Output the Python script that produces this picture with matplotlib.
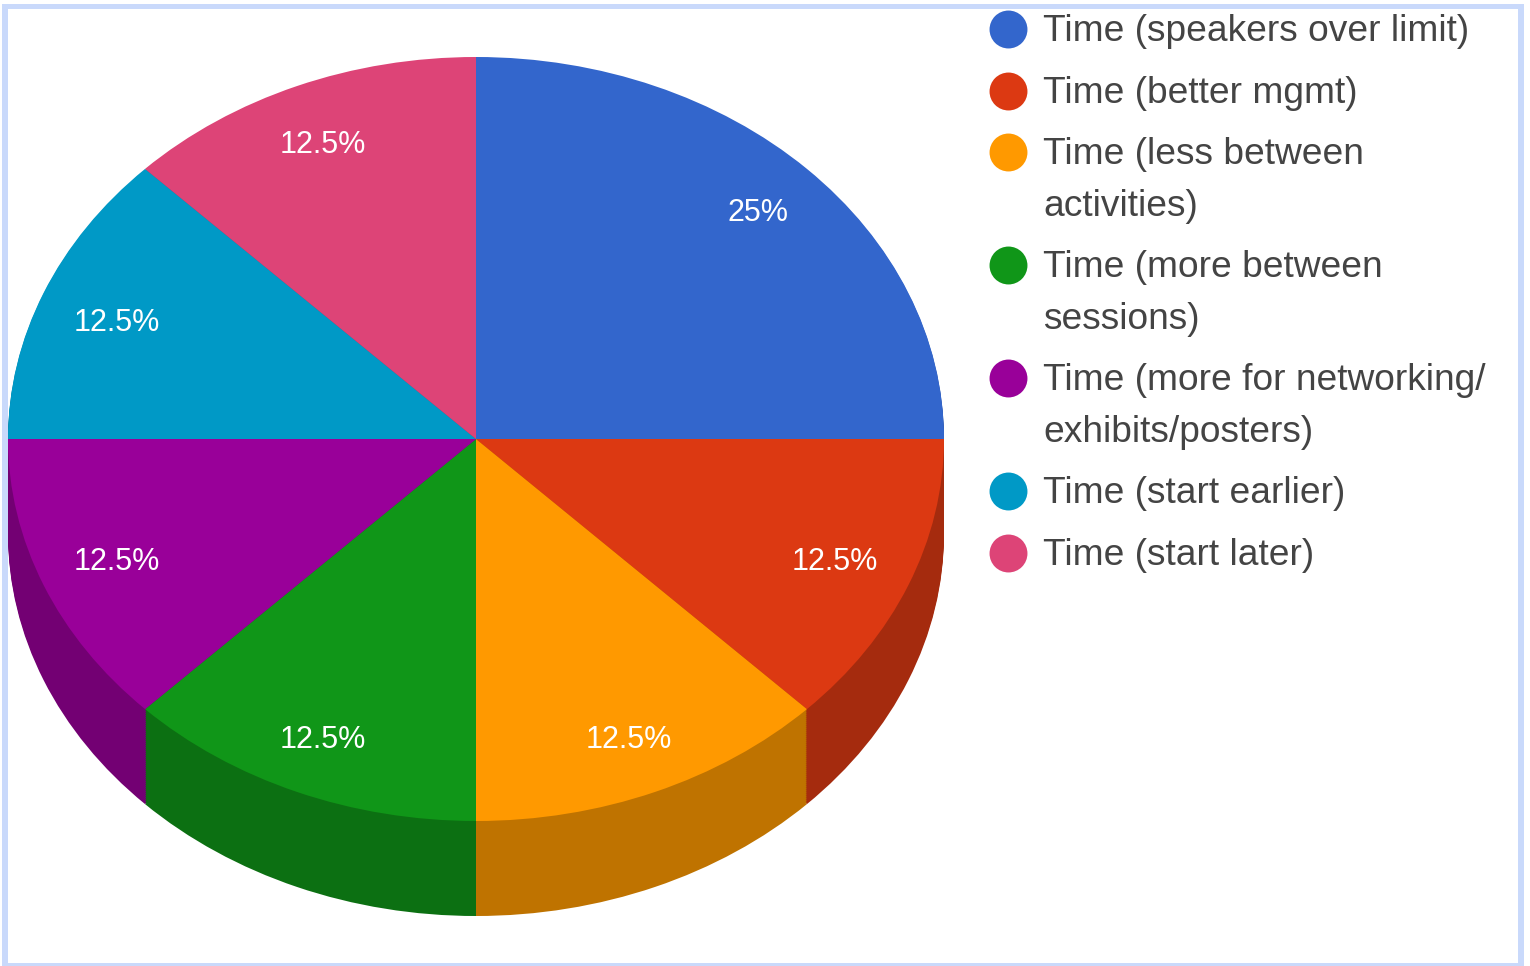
import matplotlib
matplotlib.use('Agg')
import matplotlib.pyplot as plt
from matplotlib.patches import Rectangle

labels = ['Time (speakers over limit)', 'Time (better mgmt)', 'Time (less between\nactivities)',
          'Time (more between\nsessions)', 'Time (more for networking/\nexhibits/posters)',
          'Time (start earlier)', 'Time (start later)']
shares = [25, 12.5, 12.5, 12.5, 12.5, 12.5, 12.5]
colors = ['#3366cc', '#dc3912', '#ff9900', '#109618', '#990099', '#0099c6', '#dd4477']
side_colors = ['#264d99', '#a52b0e', '#bf7300', '#0c7012', '#730073', '#007395', '#a63359']

W, H = 1530, 966
CX, CY, RX, RY = 476, 439, 468, 382
DEPTH = 95

plt.rcParams['font.family'] = 'Liberation Sans'
fig = plt.figure(figsize=(W / 100, H / 100), dpi=100, facecolor='white')

# frame goes underneath everything, pixel coordinates
bg = fig.add_axes([0, 0, 1, 1])
bg.set_xlim(0, W)
bg.set_ylim(H, 0)
bg.axis('off')
bg.add_patch(Rectangle((2, 4), 1522, 962, facecolor='#c9d9fb', edgecolor='none'))
bg.add_patch(Rectangle((8, 9), 1510, 954, facecolor='white', edgecolor='none'))

# pie axes: unit circle stretched to the ellipse on the page
ax = fig.add_axes([0, 0, 1, 1])
for d in range(DEPTH, 0, -2):
    ax.pie(shares, colors=side_colors, startangle=90, counterclock=False, center=(0, -d / RY))
wedges, texts, pcts = ax.pie(shares, colors=colors, startangle=90, counterclock=False,
                             autopct=lambda p: f'{p:g}%', pctdistance=0.835,
                             textprops={'color': 'white', 'fontsize': 22})
# nudge labels, reference does not sit them on one ellipse
for i, t in enumerate(pcts):
    x, y = t.get_position()
    if i in (1, 4, 5):
        x, y = x * 0.995, y * 0.975
    elif i in (2, 3, 6):
        x, y = x * 1.025, y * 1.01
    t.set_position((x, y - 3.5 / RY))
x, y = pcts[0].get_position()
pcts[0].set_position((x + 6 / RX, y + 4 / RY))
ax.set_aspect('auto')
ax.set_xlim(-CX / RX, (W - CX) / RX)
ax.set_ylim((CY - H) / RY, CY / RY)
ax.axis('off')

# overlay for the legend
ov = fig.add_axes([0, 0, 1, 1])
ov.set_xlim(0, W)
ov.set_ylim(H, 0)
ov.axis('off')

row_y = [29, 91, 152, 265, 378, 491, 553]
for y, lab, c in zip(row_y, labels, colors):
    ov.scatter([1008], [y], s=745, color=c, linewidths=0)
    ov.text(1043, y - 15, lab, fontsize=26.7, color='#444444', va='top', ha='left', linespacing=1.62)

fig.savefig('out.png', dpi=100)
